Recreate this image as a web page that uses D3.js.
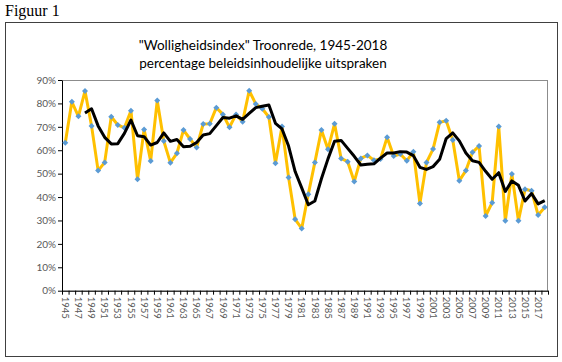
<!DOCTYPE html>
<html>
<head>
<meta charset="utf-8">
<script src="https://cdn.jsdelivr.net/npm/d3@7"></script>
<style>
  body { margin: 0; background: #fff; }
  svg { display: block; }
</style>
</head>
<body>
<div id="graph"></div>
<script>
// years 1945 - 2018
const years = d3.range(1945, 2019);

// percentage policy statements per year
const values = [
  63.2, 80.7, 74.5, 85.3, 70.4, 51.3, 54.8, 74.3, 70.8, 69.6,
  76.9, 47.6, 68.9, 55.4, 81.2, 63.9, 54.7, 58.7, 68.6, 64.8,
  61.2, 71.2, 71.3, 78.2, 75.3, 69.8, 75.3, 72.2, 85.4, 79.8,
  77.7, 74.2, 54.4, 70.1, 48.4, 30.5, 26.6, 41.2, 54.8, 68.6,
  60.4, 71.3, 56.5, 55.1, 46.6, 56.5, 57.8, 55.7, 56.3, 65.5,
  57.5, 58.4, 55.5, 59.4, 37.3, 54.8, 60.5, 71.9, 72.6, 64.4,
  47.0, 51.3, 59.1, 61.8, 31.9, 37.6, 70.1, 29.9, 49.9, 29.9,
  43.3, 42.7, 32.3, 35.6
];

// black trend line, starts at 1948
const trendYears = d3.range(1948, 2019);
const trend = [
  75.9, 77.7, 70.4, 65.5, 62.7, 62.8, 67.2, 72.9, 66.2, 65.8,
  62.2, 63.3, 67.4, 63.8, 64.6, 61.5, 61.7, 63.3, 66.5, 67.1,
  70.5, 74.0, 73.7, 74.7, 73.2, 75.7, 78.2, 78.8, 79.3, 71.5,
  69.1, 61.8, 50.9, 43.9, 36.7, 38.3, 47.8, 56.3, 63.8, 64.2,
  60.8, 57.4, 53.7, 54.0, 54.2, 56.6, 58.8, 58.8, 59.4, 59.2,
  57.7, 52.7, 51.8, 53.0, 56.1, 65.0, 67.4, 64.0, 58.8, 55.5,
  54.8, 51.0, 47.6, 50.4, 42.4, 46.9, 45.0, 38.3, 41.5, 37.1,
  38.5
];

const yTicks = d3.range(0, 91, 10);

const W = 562, H = 362;
const margin = { top: 80, right: 14, bottom: 71.3, left: 62 };

const svg = d3.select("#graph").append("svg")
  .attr("width", W).attr("height", H);

svg.append("text")
  .attr("x", 5).attr("y", 16)
  .style("font-family", "'Liberation Serif', 'Times New Roman', serif")
  .style("font-size", "16px")
  .attr("fill", "#000")
  .text("Figuur 1");

// chart border
svg.append("rect")
  .attr("x", 5.5).attr("y", 22.5)
  .attr("width", 552).attr("height", 334)
  .attr("fill", "none").attr("stroke", "#404040").attr("stroke-width", 1);

// title
const title = svg.append("text")
  .attr("text-anchor", "middle")
  .style("font-family", "Lato, 'Open Sans', sans-serif")
  .style("font-size", "13.5px")
  .attr("fill", "#000");
title.append("tspan").attr("x", 263).attr("y", 50).text("\"Wolligheidsindex\" Troonrede, 1945-2018");
title.append("tspan").attr("x", 263).attr("y", 68).text("percentage beleidsinhoudelijke uitspraken");

const x = d3.scaleBand()
  .domain(years)
  .range([margin.left, W - margin.right])
  .padding(0);

const y = d3.scaleLinear()
  .domain([0, 90])
  .range([H - margin.bottom, margin.top]);

const cx = (d) => x(d) + x.bandwidth() / 2;

// plot area border
svg.append("rect")
  .attr("x", margin.left + 0.5).attr("y", margin.top + 0.5)
  .attr("width", W - margin.right - margin.left - 1)
  .attr("height", y(0) - margin.top)
  .attr("fill", "none").attr("stroke", "#8c8c8c");

// y axis
const yAxis = svg.append("g")
  .attr("transform", `translate(${margin.left},0)`)
  .call(d3.axisLeft(y).tickValues(yTicks).tickSize(4).tickSizeOuter(0)
    .tickFormat((d) => d + "%"));
yAxis.select(".domain").attr("stroke", "#000");
yAxis.selectAll(".tick line").attr("stroke", "#000");
yAxis.selectAll("text")
  .attr("x", -6)
  .attr("fill", "#595959")
  .style("font-family", "Lato, 'Open Sans', sans-serif")
  .style("font-size", "10px");

// x axis
const xAxis = svg.append("g")
  .attr("transform", `translate(0,${y(0)})`)
  .call(d3.axisBottom(x)
    .tickValues(years.filter((d, i) => i % 2 === 0))
    .tickSize(0).tickSizeOuter(0));
xAxis.select(".domain").attr("stroke", "#000");
xAxis.selectAll("text")
  .attr("transform", "rotate(90)")
  .attr("x", 6).attr("y", 0).attr("dy", "0.35em")
  .attr("text-anchor", "start")
  .attr("fill", "#595959")
  .style("font-family", "Lato, 'Open Sans', sans-serif")
  .style("font-size", "9.5px");

// tick marks at category boundaries
svg.append("g")
  .selectAll("line")
  .data(years.concat([years[years.length - 1] + 1]))
  .enter()
  .append("line")
  .attr("x1", (d) => (x(d) !== undefined ? x(d) : W - margin.right) + 0.5)
  .attr("x2", (d) => (x(d) !== undefined ? x(d) : W - margin.right) + 0.5)
  .attr("y1", y(0))
  .attr("y2", y(0) + 4)
  .attr("stroke", "#000");

// yellow series
svg.append("path")
  .datum(values)
  .attr("fill", "none")
  .attr("stroke", "#FFC000")
  .attr("stroke-width", 3)
  .attr("stroke-linejoin", "round")
  .attr("d", d3.line()
    .x((d, i) => cx(years[i]))
    .y((d) => y(d)));

// diamond markers
svg.selectAll(".marker")
  .data(values)
  .enter()
  .append("path")
  .attr("class", "marker")
  .attr("transform", (d, i) => `translate(${cx(years[i])},${y(d)})`)
  .attr("d", "M0,-3 L3,0 L0,3 L-3,0 Z")
  .attr("fill", "#5B9BD5");

// trend line
svg.append("path")
  .datum(trend)
  .attr("fill", "none")
  .attr("stroke", "#000")
  .attr("stroke-width", 3)
  .attr("stroke-linejoin", "round")
  .attr("d", d3.line()
    .x((d, i) => cx(trendYears[i]))
    .y((d) => y(d)));
</script>
</body>
</html>
